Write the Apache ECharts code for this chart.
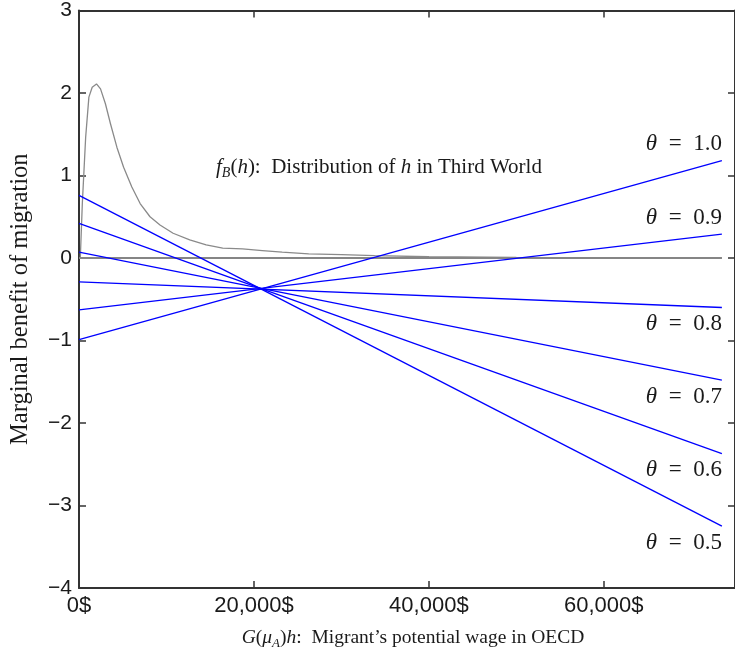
<!DOCTYPE html>
<html>
<head>
<meta charset="utf-8">
<script src="https://cdn.jsdelivr.net/npm/echarts@6/dist/echarts.min.js"></script>
<style>
html,body{margin:0;padding:0;background:#fff;}
#chart{width:735px;height:655px;}
</style>
</head>
<body>
<div id="chart"></div>
<script>
// ---- data ----
const thetas = [0.5, 0.6, 0.7, 0.8, 0.9, 1.0];
const thetaLabels = ['0.5', '0.6', '0.7', '0.8', '0.9', '1.0'];
const lineX = [0, 73500];
const lineStart = [0.76, 0.42, 0.07, -0.29, -0.63, -0.99];
const lineEnd = [-3.25, -2.37, -1.48, -0.60, 0.29, 1.18];

const fbX = [150, 380, 760, 1130, 1510, 2000, 2460, 3020, 3590, 4340, 5100, 6040, 6990, 8120, 9260, 10760, 12660, 14540, 16430, 18700, 20960, 23230, 26260, 30030, 33800, 40000, 50000, 60000, 73500];
const fbY = [0.0, 0.66, 1.46, 1.95, 2.07, 2.11, 2.05, 1.87, 1.63, 1.34, 1.10, 0.86, 0.66, 0.50, 0.40, 0.30, 0.22, 0.16, 0.12, 0.11, 0.09, 0.07, 0.05, 0.04, 0.03, 0.015, 0.006, 0.002, 0.0];

const zeroX = [0, 73500];
const zeroY = [0, 0];

const xTickValues = [0, 20000, 40000, 60000];
const xTickLabels = ['0$', '20,000$', '40,000$', '60,000$'];
const yTickValues = [-4, -3, -2, -1, 0, 1, 2, 3];
const yTickLabels = ['\u22124', '\u22123', '\u22122', '\u22121', '0', '1', '2', '3'];

// ---- chart ----
const serif = '"Liberation Serif", "DejaVu Serif", serif';
const sans = '"Liberation Sans", Arial, sans-serif';
const axisColor = '#333';
const textColor = '#1a1a1a';

const chart = echarts.init(document.getElementById('chart'), null, {renderer: 'canvas'});

const series = [];
series.push({
  type: 'line', name: 'fB', symbol: 'none', silent: true, z: 2,
  lineStyle: {color: '#8a8a8a', width: 1.3},
  data: fbX.map((x, i) => [x, fbY[i]])
});
series.push({
  type: 'line', name: 'zero', symbol: 'none', silent: true, z: 3,
  lineStyle: {color: '#858585', width: 2},
  data: zeroX.map((x, i) => [x, zeroY[i]])
});
thetas.forEach((t, i) => {
  const above = t >= 0.9;
  series.push({
    type: 'line', name: 'theta' + t, symbol: 'circle', symbolSize: 0, showSymbol: true,
    silent: true, z: 4,
    itemStyle: {color: '#0000ff'},
    lineStyle: {color: '#0000ff', width: 1.3},
    data: [
      [lineX[0], lineStart[i]],
      {
        value: [lineX[1], lineEnd[i]],
        label: {
          show: true,
          position: above ? 'top' : 'bottom',
          align: 'right',
          distance: 5,
          formatter: '{i|\u03b8}\u2002=\u2002' + thetaLabels[i],
          fontFamily: serif, fontSize: 23, color: textColor,
          rich: {i: {fontFamily: serif, fontSize: 23, fontStyle: 'italic', color: textColor}}
        }
      }
    ]
  });
});

const tickCommon = {show: true, inside: true, length: 7, lineStyle: {color: axisColor, width: 1.5}};
const lineCommon = {show: true, onZero: false, lineStyle: {color: axisColor, width: 2}};

chart.setOption({
  animation: false,
  backgroundColor: '#fff',
  grid: {left: 75, right: 0, top: 9, bottom: 64, containLabel: false},
  xAxis: [{
    type: 'value', min: 0, max: 75000, interval: 20000, position: 'bottom',
    axisLine: lineCommon, axisTick: tickCommon, splitLine: {show: false},
    axisLabel: {
      show: true, showMaxLabel: false, margin: 7,
      fontFamily: sans, fontSize: 22, color: textColor,
      formatter: v => { const k = xTickValues.indexOf(v); return k >= 0 ? xTickLabels[k] : ''; }
    },
    name: '{i|G}({i|\u03bc}{s|A}){i|h}:  Migrant\u2019s potential wage in OECD',
    nameLocation: 'middle', nameGap: 38,
    nameTextStyle: {
      fontFamily: serif, fontSize: 19.5, color: textColor, lineHeight: 24,
      padding: [0, 0, 0, 12],
      rich: {
        i: {fontFamily: serif, fontSize: 19.5, fontStyle: 'italic', color: textColor, lineHeight: 24},
        s: {fontFamily: serif, fontSize: 13, fontStyle: 'italic', color: textColor, lineHeight: 11, verticalAlign: 'bottom'}
      }
    }
  }, {
    type: 'value', min: 0, max: 75000, interval: 20000, position: 'top',
    axisLine: lineCommon, axisTick: tickCommon, splitLine: {show: false},
    axisLabel: {show: false}
  }],
  yAxis: [{
    type: 'value', min: -4, max: 3, interval: 1, position: 'left',
    axisLine: lineCommon, axisTick: tickCommon, splitLine: {show: false},
    axisLabel: {
      show: true, margin: 7,
      fontFamily: sans, fontSize: 21, color: textColor,
      formatter: v => { const k = yTickValues.indexOf(v); return k >= 0 ? yTickLabels[k] : ''; }
    },
    name: 'Marginal benefit of migration',
    nameLocation: 'middle', nameRotate: 90, nameGap: 46,
    nameTextStyle: {fontFamily: serif, fontSize: 24.5, color: textColor}
  }, {
    type: 'value', min: -4, max: 3, interval: 1, position: 'right',
    axisLine: lineCommon, axisTick: tickCommon, splitLine: {show: false},
    axisLabel: {show: false}
  }],
  graphic: [{
    type: 'text', left: 216, top: 154, silent: true,
    style: {
      text: '{i|f}{s|B}({i|h}):  Distribution of {i|h} in Third World',
      fontFamily: serif, fontSize: 21, fill: textColor, lineHeight: 26,
      rich: {
        i: {fontFamily: serif, fontSize: 21, fontStyle: 'italic', fill: textColor, lineHeight: 26},
        s: {fontFamily: serif, fontSize: 14, fontStyle: 'italic', fill: textColor, lineHeight: 12, verticalAlign: 'bottom'}
      }
    }
  }],
  series: series
});
</script>
</body>
</html>
